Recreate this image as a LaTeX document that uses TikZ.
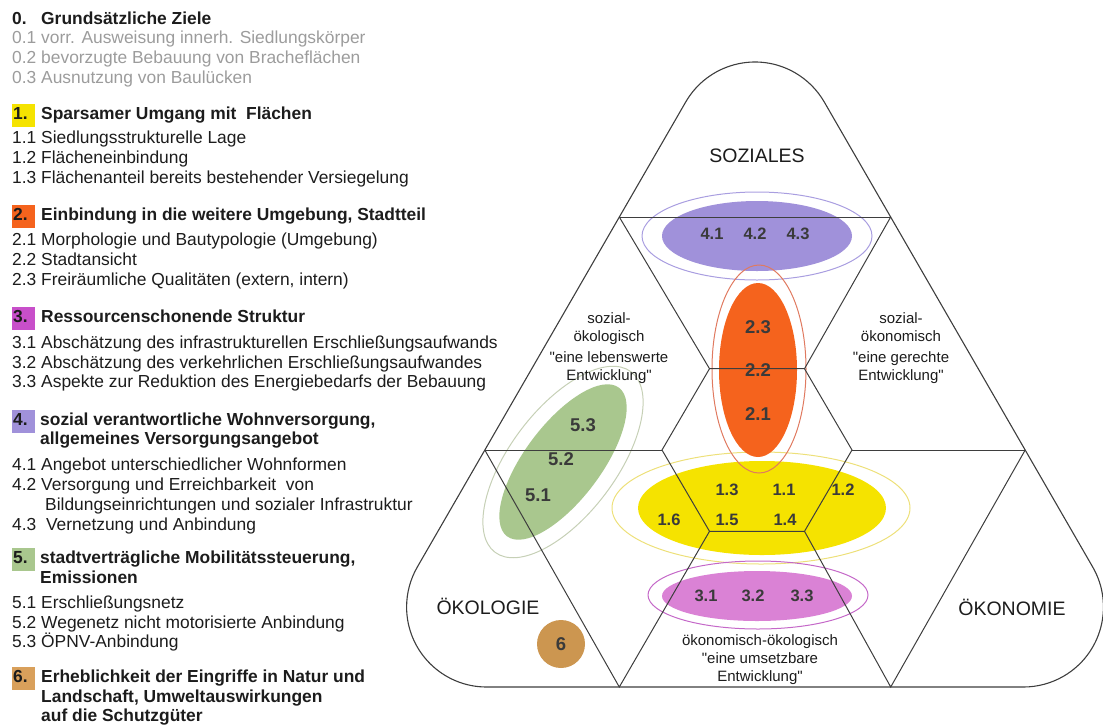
\documentclass[tikz,border=0pt]{standalone}
\usepackage{fontspec}
\setmainfont{Liberation Sans}[Ligatures=TeXOff]
\definecolor{ink}{HTML}{1C1C1C}
\definecolor{greyink}{HTML}{9C9C9C}
\definecolor{numink}{HTML}{3A3A3A}
\definecolor{lineC}{HTML}{3E3E3E}
\definecolor{fYellow}{HTML}{F5E300}
\definecolor{oYellow}{HTML}{EDE07A}
\definecolor{fOrange}{HTML}{F5631D}
\definecolor{oOrange}{HTML}{E07A60}
\definecolor{fMagenta}{HTML}{DA82D5}
\definecolor{oMagenta}{HTML}{C468C8}
\definecolor{bMagenta}{HTML}{C84FCA}
\definecolor{fPurple}{HTML}{A091DA}
\definecolor{oPurple}{HTML}{A99EE0}
\definecolor{fGreen}{HTML}{A9C78E}
\definecolor{oGreen}{HTML}{C6D0B6}
\definecolor{fTan}{HTML}{CC9650}
\definecolor{bTan}{HTML}{D9A05B}
\begin{document}
\begin{tikzpicture}[x=1pt,y=-1pt,
  body/.style={anchor=base west, inner sep=0pt, text=ink, font=\fontsize{17.4}{20}\selectfont},
  greytxt/.style={body, text=greyink},
  head/.style={body, font=\fontsize{17.4}{20}\selectfont\bfseries},
  num/.style={inner sep=0pt, text=numink, font=\fontsize{16.5}{18}\selectfont\bfseries},
  bignum/.style={num, font=\fontsize{18.5}{20}\selectfont\bfseries},
  lbl/.style={anchor=base, inner sep=0pt, text=ink, align=center, font=\fontsize{15}{18}\selectfont},
  big/.style={anchor=base, inner sep=0pt, text=ink, font=\fontsize{19.5}{22}\selectfont},
  grid/.style={draw=lineC, line width=1pt},
  ring/.style={line width=1pt}]
\useasboundingbox (0,0) rectangle (1103,724);

% ---------- list of criteria ----------
\node[head] (h0n) at (12,24) {0.};
\node[head] (h0) at (41,24) {Grundsätzliche Ziele};
\node[greytxt] (t01) at (12,43) {0.1 vorr. Ausweisung innerh. Siedlungskörper};
\node[greytxt] (t02) at (12,63) {0.2 bevorzugte Bebauung von Bracheflächen};
\node[greytxt] (t03) at (12,83) {0.3 Ausnutzung von Baulücken};

\fill[fYellow] (12,104) rectangle (35,127);
\node[head] (h1n) at (13,119) {1.};
\node[head] (h1) at (41,119) {Sparsamer Umgang mit~ Flächen};
\node[body] (t11) at (12,143) {1.1 Siedlungsstrukturelle Lage};
\node[body] (t12) at (12,163) {1.2 Flächeneinbindung};
\node[body] (t13) at (12,183) {1.3 Flächenanteil bereits bestehender Versiegelung};

\fill[fOrange] (12,205) rectangle (35,228);
\node[head] (h2n) at (13,220) {2.};
\node[head] (h2) at (41,220) {Einbindung in die weitere Umgebung, Stadtteil};
\node[body] (t21) at (12,245) {2.1 Morphologie und Bautypologie (Umgebung)};
\node[body] (t22) at (12,265) {2.2 Stadtansicht};
\node[body] (t23) at (12,285) {2.3 Freiräumliche Qualitäten (extern, intern)};

\fill[bMagenta] (12,307) rectangle (35,330);
\node[head] (h3n) at (13,322) {3.};
\node[head] (h3) at (41,322) {Ressourcenschonende Struktur};
\node[body] (t31) at (12,348) {3.1 Abschätzung des infrastrukturellen Erschließungsaufwands};
\node[body] (t32) at (12,368) {3.2 Abschätzung des verkehrlichen Erschließungsaufwandes};
\node[body] (t33) at (12,387) {3.3 Aspekte zur Reduktion des Energiebedarfs der Bebauung};

\fill[fPurple] (12,410) rectangle (35,433);
\node[head] (h4n) at (13,425) {4.};
\node[head] (h4a) at (40,425) {sozial verantwortliche Wohnversorgung,};
\node[head] (h4b) at (40,444) {allgemeines Versorgungsangebot};
\node[body] (t41) at (12,470) {4.1 Angebot unterschiedlicher Wohnformen};
\node[body] (t42) at (12,490) {4.2 Versorgung und Erreichbarkeit~ von};
\node[body] (t42b) at (45,510) {Bildungseinrichtungen und sozialer Infrastruktur};
\node[body] (t43) at (12,530) {4.3~ Vernetzung und Anbindung};

\fill[fGreen] (12,548) rectangle (35,571);
\node[head] (h5n) at (13,563) {5.};
\node[head] (h5a) at (40,563) {stadtverträgliche Mobilitätssteuerung,};
\node[head] (h5b) at (40,583) {Emissionen};
\node[body] (t51) at (12,608) {5.1 Erschließungsnetz};
\node[body] (t52) at (12,628) {5.2 Wegenetz nicht motorisierte Anbindung};
\node[body] (t53) at (12,647) {5.3 ÖPNV-Anbindung};

\fill[bTan] (12,667) rectangle (35,690);
\node[head] (h6n) at (13,682) {6.};
\node[head] (h6a) at (41,682) {Erheblichkeit der Eingriffe in Natur und};
\node[head] (h6b) at (41,702) {Landschaft, Umweltauswirkungen};
\node[head] (h6c) at (41,721) {auf die Schutzgüter};

% ---------- coloured groups ----------
\fill[fPurple] (757,236) ellipse[x radius=95, y radius=35];
\draw[oPurple, ring] (757,236) ellipse[x radius=115, y radius=44];
\fill[fYellow] (762,508) ellipse[x radius=124, y radius=47];
\draw[oYellow, ring] (761,508) ellipse[x radius=149, y radius=56];
\fill[fOrange] (758,370) ellipse[x radius=39, y radius=87];
\draw[oOrange, ring] (759,369) ellipse[x radius=47, y radius=104];
\fill[fGreen, rotate around={53:(563,462)}] (563,462) ellipse[x radius=93, y radius=38];
\draw[oGreen, ring, rotate around={53:(563,462)}] (563,462) ellipse[x radius=113, y radius=53];
\fill[fMagenta] (757,596) ellipse[x radius=95, y radius=25];
\draw[oMagenta, ring] (758,595) ellipse[x radius=110, y radius=34];
\fill[fTan] (561,644) circle[radius=24];

% ---------- triangle grid ----------
\coordinate (a1) at (619.3,217);
\coordinate (a2) at (890.7,217);
\coordinate (m1) at (484.8,450);
\coordinate (m2) at (1025.2,450);
\coordinate (hL) at (662,450);
\coordinate (hR) at (852,450);
\coordinate (hTL) at (709.5,368.7);
\coordinate (hTR) at (804.5,368.7);
\coordinate (hBL) at (709.5,531.3);
\coordinate (hBR) at (804.5,531.3);
\coordinate (b1) at (619.3,687);
\coordinate (b2) at (890.7,687);

\draw[grid] (a1) -- (a2);
\draw[grid] (a1) -- (hTL) -- (hTR) -- (a2);
\draw[grid] (hTL) -- (hL) -- (hBL) -- (hBR) -- (hR) -- (hTR);
\draw[grid] (m1) -- (hL);
\draw[grid] (hR) -- (m2);
\draw[grid] (m1) -- (b1) -- (hBL);
\draw[grid] (hBR) -- (b2) -- (m2);

% rounded outer triangle
\draw[grid, line width=1.1pt] (685.7,102) arc[start angle=210, end angle=330, radius=80]
  -- (1092.7,567) arc[start angle=-30, end angle=90, radius=80]
  -- (486.6,687) arc[start angle=90, end angle=210, radius=80] -- cycle;

% ---------- labels (base = last line) ----------
\node[big] (soz) at (757,162) {SOZIALES};
\node[big] (oek) at (488,614.5) {ÖKOLOGIE};
\node[big] (oekon) at (1012,615) {ÖKONOMIE};

\node[lbl] (sozoek) at (609,380.5) {sozial-\\ökologisch\\[3pt]"eine lebenswerte\\Entwicklung"};
\node[lbl] (sozokn) at (901,380.5) {sozial-\\ökonomisch\\[3pt]"eine gerechte\\Entwicklung"};
\node[lbl] (okoek) at (760,681.5) {ökonomisch-ökologisch\\"eine umsetzbare\\Entwicklung"};

\node[num] (n41) at (712,234) {4.1};
\node[num] (n42) at (755,234) {4.2};
\node[num] (n43) at (798,234) {4.3};
\node[bignum] (n23) at (758,327) {2.3};
\node[bignum] (n22) at (758,370) {2.2};
\node[bignum] (n21) at (758,414) {2.1};
\node[bignum] (n53) at (583,425) {5.3};
\node[bignum] (n52) at (561,459) {5.2};
\node[bignum] (n51) at (538,495) {5.1};
\node[num] (n13) at (727,490) {1.3};
\node[num] (n11) at (784,490) {1.1};
\node[num] (n12) at (843,490) {1.2};
\node[num] (n16) at (669,520) {1.6};
\node[num] (n15) at (727,520) {1.5};
\node[num] (n14) at (785,520) {1.4};
\node[num] (n31) at (706,596) {3.1};
\node[num] (n32) at (753,596) {3.2};
\node[num] (n33) at (802,596) {3.3};
\node[num, font=\fontsize{18.5}{20}\selectfont\bfseries] (n6) at (561,644) {6};
\end{tikzpicture}
\end{document}
